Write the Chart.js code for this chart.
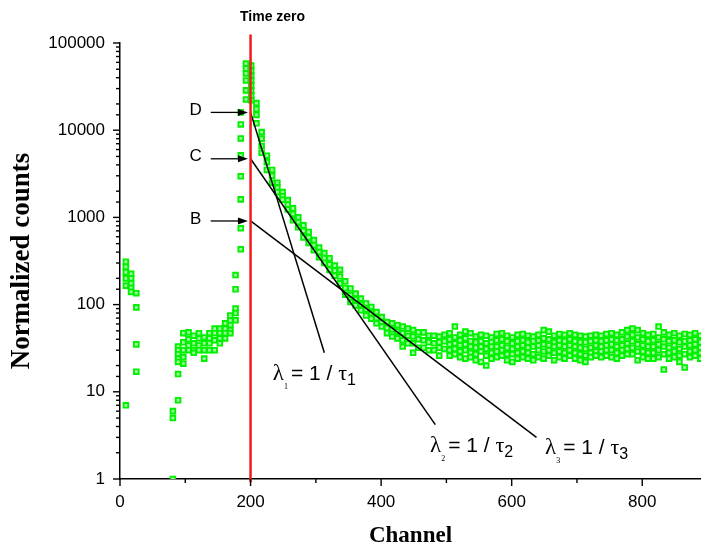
<!DOCTYPE html>
<html>
<head>
<meta charset="utf-8">
<title>Normalized counts vs channel</title>
<script src="https://cdn.jsdelivr.net/npm/chart.js@4.4.1/dist/chart.umd.min.js"></script>
<style>
  html, body { margin: 0; padding: 0; background: #fff; }
  canvas { display: block; }
</style>
</head>
<body>
<canvas id="decayChart" width="701" height="550"></canvas>
<script>
// channel columns (one every 8 channels) and the counts
const channels = [
  9, 17, 25, 81, 89, 97, 105, 113, 121, 129, 137, 145, 153, 161, 169, 177,
  185, 193, 201, 209, 217, 225, 233, 241, 249, 257, 265, 273, 281, 289, 297,
  305, 313, 321, 329, 337, 345, 353, 361, 369, 377, 385, 393, 401, 409, 417,
  425, 433, 441, 449, 457, 465, 473, 481, 489, 497, 505, 513, 521, 529, 537,
  545, 553, 561, 569, 577, 585, 593, 601, 609, 617, 625, 633, 641, 649, 657,
  665, 673, 681, 689, 697, 705, 713, 721, 729, 737, 745, 753, 761, 769, 777,
  785, 793, 801, 809, 817, 825, 833, 841, 849, 857, 865, 873, 881, 889
];
const counts = [
  [310, 270, 235, 200, 165, 7], [225, 200, 175, 155, 140], [135, 93, 35, 17],
  [6, 5, 1], [33, 30, 27, 24, 22, 16, 8], [47, 37, 30, 25, 21],
  [48, 40, 34, 30], [44, 36, 30, 28], [47, 41, 34, 30], [42, 36, 30, 24],
  [47, 41, 36, 30], [53, 47, 39, 30], [53, 47, 41, 36], [61, 53, 47, 41],
  [75, 66, 58, 51, 47], [218, 150, 90, 80, 66],
  [16000, 11650, 8050, 5140, 2960, 1610, 750, 431],
  [58000, 51000, 44700, 37200, 28600, 22500],
  [55000, 48000, 42000, 37000, 32500, 28500, 25000, 22000],
  [20500, 17500, 15000, 12000], [9500, 8000, 6600, 5500], [5100, 4300, 3500],
  [3500, 3000, 2500], [2500, 2200, 1950], [1950, 1750, 1600], [1580, 1400, 1230],
  [1270, 1100, 930], [1000, 880, 770], [810, 700, 590], [680, 590, 510],
  [550, 480, 420], [450, 400, 350], [390, 340, 300], [340, 290, 250],
  [280, 245, 215], [250, 210, 175], [185, 155, 130], [153, 128, 107],
  [134, 115, 98], [117, 100, 86], [103, 88, 75], [94, 80, 69], [82, 70, 61],
  [72, 63, 56], [63, 54, 47], [61, 52, 43], [58, 49, 41], [56, 47, 39, 33],
  [53, 44, 36], [51, 43, 36, 28], [48, 40, 32], [48, 39, 32], [44, 37, 30],
  [44, 36, 30], [43, 37, 32, 26], [45, 38, 31],
  [47, 40, 35, 30, 26], [56, 42, 36, 31, 27], [45, 39, 34, 29, 25],
  [49, 41, 35, 30, 24], [47, 38, 33, 28, 25], [43, 37, 32, 27, 23],
  [45, 38, 33, 29, 22], [44, 36, 31, 26, 20], [42, 37, 33, 28, 24],
  [46, 39, 33, 29, 25], [47, 40, 34, 30, 26], [44, 38, 32, 27, 23],
  [42, 36, 31, 27, 22], [45, 38, 33, 28, 24], [46, 39, 34, 29, 25],
  [44, 37, 32, 28, 24], [43, 38, 33, 27, 23], [45, 39, 34, 30, 25],
  [51, 41, 35, 29, 24], [49, 40, 34, 30, 26], [44, 37, 33, 28, 23],
  [46, 39, 34, 29, 25], [45, 38, 33, 28, 24], [47, 40, 34, 30, 26],
  [45, 38, 33, 28, 24], [44, 37, 32, 27, 23], [43, 37, 31, 26, 22],
  [44, 38, 32, 28, 25], [45, 39, 34, 29, 26], [44, 38, 33, 29, 25],
  [46, 39, 34, 30, 26], [47, 40, 35, 30, 25], [45, 39, 33, 28, 24],
  [48, 40, 34, 30, 26], [51, 43, 36, 31, 27], [53, 45, 38, 32, 27],
  [51, 42, 35, 29, 23], [47, 40, 34, 29, 25], [45, 38, 33, 28, 24],
  [46, 39, 33, 28, 24], [56, 42, 35, 30, 25], [48, 40, 33, 27, 18],
  [45, 38, 32, 28, 24], [47, 39, 34, 29, 25], [44, 37, 31, 26, 22],
  [46, 38, 33, 27, 19], [45, 39, 34, 29, 25], [47, 40, 35, 30, 26],
  [44, 37, 32, 28, 24]
];

// time zero marker
const timeZero = 200;
const timeZeroSpan = [0.92, 125000];

// extrapolated components D, C, B (start at time zero, end at their label)
const componentNames = ['D', 'C', 'B'];
const componentStart = [16000, 4700, 910];
const componentEndChannel = [313, 483, 638];
const componentEndCount = [28, 4.2, 3.0];
const arrowFromChannel = 139;
const arrowToChannel = 196;
const letterChannel = 116;

// decay constant labels
const lambdaIndex = ['1', '2', '3'];
const lambdaChannel = [234, 475, 651];
const lambdaCount = [13.6, 2.04, 1.96];

const xTickValues = [0, 100, 200, 300, 400, 500, 600, 700, 800];

const points = channels.flatMap((c, i) => counts[i].map(v => ({x: c, y: v})));

function isDecade(v) {
  const e = Math.round(Math.log10(v));
  return Math.abs(v - Math.pow(10, e)) < 1e-6 * v;
}

const datasets = [{
  data: points,
  pointStyle: 'rect',
  pointRadius: 3.3,
  pointBorderWidth: 1.9,
  pointBorderColor: '#00f000',
  pointBackgroundColor: '#a0ffa0',
  order: 3
}, {
  data: [{x: timeZero, y: timeZeroSpan[0]}, {x: timeZero, y: timeZeroSpan[1]}],
  showLine: true,
  borderColor: '#ee1c1c',
  borderWidth: 2.5,
  pointRadius: 0,
  clip: false,
  order: 1
}];
componentNames.forEach((n, i) => {
  datasets.push({
    data: [{x: timeZero, y: componentStart[i]}, {x: componentEndChannel[i], y: componentEndCount[i]}],
    showLine: true,
    borderColor: '#000',
    borderWidth: 1.5,
    pointRadius: 0,
    clip: false,
    order: 2
  });
});

const decorations = {
  id: 'decorations',
  afterDraw(chart) {
    const {ctx, chartArea} = chart;
    const x = chart.scales.x, y = chart.scales.y;
    ctx.save();
    ctx.strokeStyle = '#000';
    ctx.fillStyle = '#000';
    ctx.lineWidth = 1.4;
    const seg = (x1, y1, x2, y2) => {
      ctx.beginPath(); ctx.moveTo(x1, y1); ctx.lineTo(x2, y2); ctx.stroke();
    };
    // axis ticks, long on the labelled values
    xTickValues.forEach(v => {
      const px = x.getPixelForValue(v);
      seg(px, chartArea.bottom, px, chartArea.bottom + (v % 200 === 0 ? 7 : 4));
    });
    y.ticks.forEach(t => {
      const py = y.getPixelForValue(t.value);
      seg(chartArea.left - (isDecade(t.value) ? 7 : 4), py, chartArea.left, py);
    });

    // arrows pointing at the intercepts
    ctx.lineWidth = 1.3;
    componentNames.forEach((n, i) => {
      const py = y.getPixelForValue(componentStart[i]);
      const x1 = x.getPixelForValue(arrowFromChannel);
      const x2 = x.getPixelForValue(arrowToChannel);
      seg(x1, py, x2 - 6, py);
      ctx.beginPath();
      ctx.moveTo(x2, py);
      ctx.lineTo(x2 - 10, py - 3.5);
      ctx.lineTo(x2 - 10, py + 3.5);
      ctx.closePath();
      ctx.fill();
      ctx.font = '17px "Liberation Sans", Arial, sans-serif';
      ctx.textAlign = 'center';
      ctx.textBaseline = 'middle';
      ctx.fillText(n, x.getPixelForValue(letterChannel), py - 2);
    });

    // lambda_i = 1 / tau_i
    ctx.textAlign = 'left';
    ctx.textBaseline = 'alphabetic';
    lambdaIndex.forEach((k, i) => {
      let px = x.getPixelForValue(lambdaChannel[i]);
      const py = y.getPixelForValue(lambdaCount[i]);
      const runs = [
        ['\u03bb', '23px "Liberation Serif", serif', 0, 0],
        [k, '8px "Liberation Serif", serif', 9, 3],
        ['= 1 / ', '21px "Liberation Sans", Arial, sans-serif', 0, 0],
        ['\u03c4', '22px "Liberation Serif", serif', 0, 0],
        [k, '16px "Liberation Sans", Arial, sans-serif', 5, 0]
      ];
      runs.forEach(([t, f, dy, gap]) => {
        ctx.font = f;
        ctx.fillText(t, px, py + dy);
        px += ctx.measureText(t).width + gap;
      });
    });

    // Time zero caption above the marker
    ctx.font = 'bold 14px "Liberation Sans", Arial, sans-serif';
    ctx.textAlign = 'center';
    ctx.textBaseline = 'middle';
    ctx.fillText('Time zero', x.getPixelForValue(timeZero) + 22, y.getPixelForValue(timeZeroSpan[1]) - 17);
    ctx.restore();
  }
};

Chart.defaults.font.family = '"Liberation Sans", Arial, sans-serif';
Chart.defaults.color = '#000';

new Chart(document.getElementById('decayChart'), {
  type: 'scatter',
  data: { datasets },
  plugins: [decorations],
  options: {
    responsive: false,
    animation: false,
    devicePixelRatio: 1,
    layout: { autoPadding: false, padding: { top: 43, right: 0, left: 0, bottom: 0 } },
    plugins: { legend: { display: false }, tooltip: { enabled: false } },
    scales: {
      x: {
        type: 'linear',
        min: 0,
        max: 890,
        afterFit(scale) { scale.height = 71; },
        afterBuildTicks(scale) { scale.ticks = xTickValues.map(v => ({value: v})); },
        grid: { display: true, drawOnChartArea: false, drawTicks: true, tickLength: 7, tickColor: 'rgba(0,0,0,0)' },
        border: { display: true, color: '#000', width: 1.5 },
        ticks: {
          autoSkip: false, maxRotation: 0, padding: 6,
          font: { size: 17 },
          callback: v => (v % 200 === 0 ? String(v) : '')
        },
        title: {
          display: true, text: 'Channel',
          font: { family: '"Liberation Serif", "Times New Roman", serif', size: 23, weight: 'bold' },
          padding: { top: 0, bottom: 0 }
        }
      },
      y: {
        type: 'logarithmic',
        min: 1,
        max: 100000,
        afterFit(scale) { scale.width = 120; },
        grid: { display: true, drawOnChartArea: false, drawTicks: true, tickLength: 7, tickColor: 'rgba(0,0,0,0)' },
        border: { display: true, color: '#000', width: 1.5 },
        ticks: {
          autoSkip: false, padding: 8,
          font: { size: 17 },
          callback: v => (isDecade(v) ? String(Math.round(v)) : '')
        },
        title: {
          display: true, text: 'Normalized counts',
          font: { family: '"Liberation Serif", "Times New Roman", serif', size: 27, weight: 'bold' },
          padding: { top: 6, bottom: 0 }
        }
      }
    }
  }
});
</script>
</body>
</html>
